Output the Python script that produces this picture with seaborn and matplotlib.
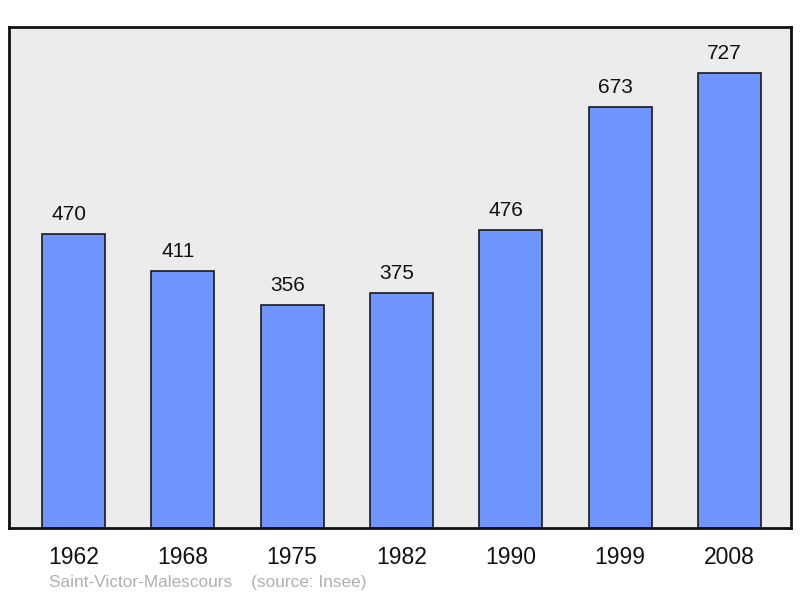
import pandas as pd
import matplotlib.pyplot as plt
import seaborn as sns

years = ["1962", "1968", "1975", "1982", "1990", "1999", "2008"]
population = [470, 411, 356, 375, 476, 673, 727]

df = pd.DataFrame({"year": years, "pop": population})

sns.set_style("white")
plt.rcParams['font.family'] = ['Liberation Sans', 'DejaVu Sans']

fig = plt.figure(figsize=(8, 5.98), dpi=100)
ax = fig.add_axes([0.01125, 0.1171, 0.9775, 0.8377])
ax.set_facecolor("#ececec")

sns.barplot(data=df, x="year", y="pop", color="#7095ff", width=0.576,
            edgecolor="#1a1a1a", linewidth=1.2, saturation=1, ax=ax)

# value labels sit a little left of the bar centre, as in the original
for i, v in enumerate(population):
    ax.text(i - 0.045, v + 31, str(v), ha="center", va="center", fontsize=15, color="#111111")

ax.set_xlim(-0.59, 6.5625)
ax.set_ylim(0, 800)
ax.set_yticks([])
ax.set_xlabel("")
ax.set_ylabel("")
ax.tick_params(axis="x", length=0, labelsize=16.5, pad=13, colors="#111111")
for s in ax.spines.values():
    s.set_visible(True)
    s.set_linewidth(2)
    s.set_color("#111111")

fig.text(49 / 800, 1 - 583 / 598, "Saint-Victor-Malescours    (source: Insee)",
         fontsize=12.4, color="#b0b0b0", ha="left", va="center")

fig.savefig("out.png", dpi=100)
